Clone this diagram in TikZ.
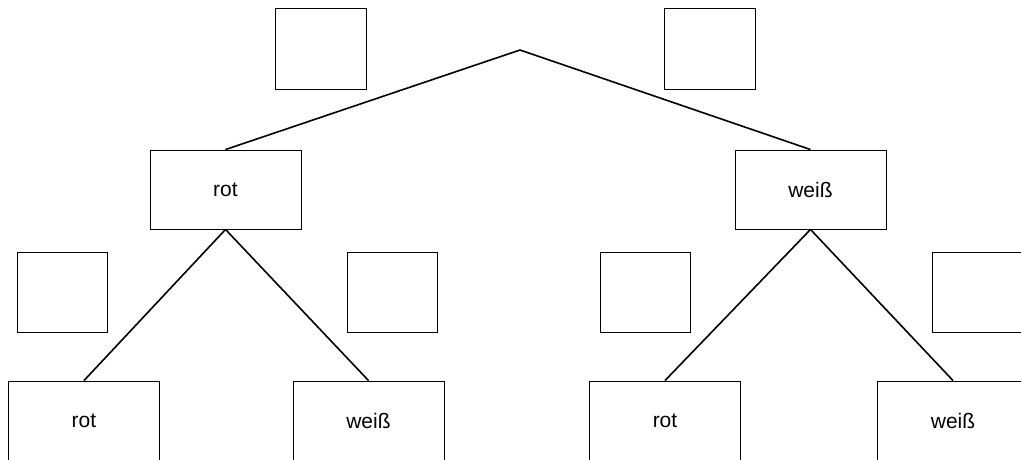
\documentclass[tikz,border=0pt]{standalone}
\usepackage{fontspec}
\setmainfont{Liberation Sans}
\usepackage{tikz}
\usetikzlibrary{positioning,calc}

\tikzset{
  answer/.style = {draw, line width = .9pt, minimum width = 91pt, minimum height = 81pt, inner sep = 0pt},
  branch/.style = {draw, line width = .9pt, minimum width = 151pt, minimum height = 79pt, inner sep = 0pt, font = \fontsize{21}{25}\selectfont},
  edge/.style = {line width = 1.6pt}
}

\begin{document}
\begin{tikzpicture}[x = 1pt, y = -1pt]
  \useasboundingbox (0,0) rectangle (1021,459);
  \coordinate (root) at (520,50);
  % first stage
  \node[answer] (p1) at (320.5,48.5) {};
  \node[answer] (p2) at (709.5,49) {};
  \node[branch] (r) at (225.5,189.5) {rot};
  \node[branch] (w) at (810.5,189.5) {weiß};
  \draw[edge] (root) -- (r.north);
  \draw[edge] (root) -- (w.north);
  % second stage
  \node[answer, minimum width = 90pt, minimum height = 80pt] (p3) at (62,292) {};
  \node[answer, minimum width = 90pt, minimum height = 80pt] (p4) at (392.5,292) {};
  \node[answer, minimum width = 90pt, minimum height = 80pt] (p5) at (645.5,292) {};
  \node[answer, minimum width = 90pt, minimum height = 80pt] (p6) at (977,292) {};
  \node[branch, minimum height = 80pt] (rr) at (84,421) {rot};
  \node[branch, minimum height = 80pt] (rw) at (368.5,421) {weiß};
  \node[branch, minimum height = 80pt] (wr) at (665,421) {rot};
  \node[branch, minimum height = 80pt] (ww) at (953,421) {weiß};
  \draw[edge] (r.south) -- (rr.north);
  \draw[edge] (r.south) -- (rw.north);
  \draw[edge] (w.south) -- (wr.north);
  \draw[edge] (w.south) -- (ww.north);
\end{tikzpicture}
\end{document}
